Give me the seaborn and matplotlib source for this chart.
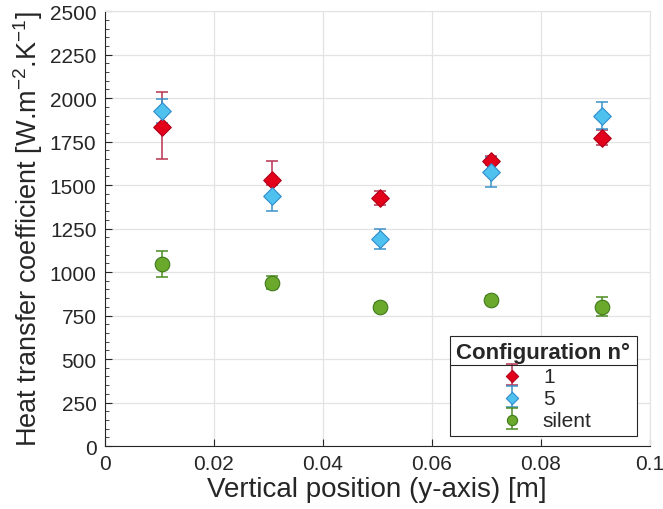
import matplotlib
matplotlib.use('Agg')
import matplotlib.pyplot as plt
import seaborn as sns
import pandas as pd
from matplotlib.ticker import MultipleLocator, FuncFormatter
from matplotlib.lines import Line2D

# data
y_pos = [0.0105, 0.0307, 0.0505, 0.0708, 0.0913]

htc_1 = [1835, 1530, 1425, 1640, 1770]
err_1_lo = [185, 30, 40, 25, 40]
err_1_hi = [200, 110, 40, 30, 45]

htc_5 = [1925, 1437, 1190, 1577, 1900]
err_5_lo = [70, 85, 60, 85, 80]
err_5_hi = [70, 85, 60, 85, 80]

htc_s = [1045, 940, 800, 840, 800]
err_s_lo = [75, 40, 25, 20, 55]
err_s_hi = [75, 40, 25, 20, 55]

configs = ['1', '5', 'silent']
face_cols = {'1': '#e3001b', '5': '#4fc1ef', 'silent': '#6aa92b'}
edge_cols = {'1': '#b0001a', '5': '#2f8ccc', 'silent': '#3f7a1c'}
err_cols = {'1': '#b8334f', '5': '#3a92c9', 'silent': '#4a8b22'}
markers = {'1': 'D', '5': 'D', 'silent': 'o'}
sizes = {'1': 80, '5': 80, 'silent': 110}

df = pd.DataFrame({
    'y': y_pos * 3,
    'htc': htc_1 + htc_5 + htc_s,
    'lo': err_1_lo + err_5_lo + err_s_lo,
    'hi': err_1_hi + err_5_hi + err_s_hi,
    'config': [c for c in configs for _ in y_pos],
})

sns.set_style('white')
plt.rcParams['font.family'] = ['Liberation Sans', 'DejaVu Sans']
plt.rcParams['mathtext.fontset'] = 'custom'
plt.rcParams['mathtext.rm'] = 'Liberation Sans'
plt.rcParams['mathtext.it'] = 'Liberation Sans:italic'
plt.rcParams['mathtext.bf'] = 'Liberation Sans:bold'
plt.rcParams['axes.unicode_minus'] = False
txt = '#262626'

fig = plt.figure(figsize=(6.63, 5.10), dpi=100)
ax = fig.add_axes([0.158, 0.1235, 0.822, 0.8525])

handles = []
for c in configs:
    sub = df[df['config'] == c]
    eb = ax.errorbar(sub['y'], sub['htc'], yerr=[sub['lo'], sub['hi']], fmt='none',
                     ecolor=err_cols[c], elinewidth=1.1, capsize=4, capthick=1.1, zorder=2)
    sns.scatterplot(data=sub, x='y', y='htc', marker=markers[c], s=sizes[c],
                    color=face_cols[c], edgecolor=edge_cols[c], linewidth=0.8, ax=ax, zorder=3)
    sc = ax.collections[-1]
    handles.append((eb, sc))

ax.set_xlim(0, 0.1)
ax.set_ylim(0, 2500)
ax.xaxis.set_major_locator(MultipleLocator(0.02))
ax.xaxis.set_major_formatter(FuncFormatter(lambda v, p: '%g' % round(v, 4)))
ax.yaxis.set_major_locator(MultipleLocator(250))
ax.yaxis.set_minor_locator(MultipleLocator(50))

ax.grid(True, which='major', color='#e3e3e3', linewidth=0.9)
ax.set_axisbelow(True)
for s in ['top', 'right']:
    ax.spines[s].set_color('#e3e3e3')
for s in ['left', 'bottom']:
    ax.spines[s].set_color(txt)
    ax.spines[s].set_linewidth(0.8)

ax.tick_params(axis='both', which='major', direction='in', length=5, width=0.8,
               labelsize=15, colors=txt, pad=6, left=True, bottom=True)
ax.tick_params(axis='y', which='minor', direction='in', length=3, width=0.6, color=txt, left=True)

ax.set_xlabel('Vertical position (y-axis) [m]', fontsize=20, color=txt, labelpad=2)
ax.set_ylabel('Heat transfer coefficient [W.m$^{-2}$.K$^{-1}$]', fontsize=19.5,
              color=txt, labelpad=3)

leg = ax.legend(handles, configs, title='Configuration n°', loc='lower right',
                bbox_to_anchor=(0.976, 0.023), fontsize=15, title_fontsize=16,
                frameon=True, fancybox=False, edgecolor=txt, framealpha=1,
                borderpad=0.3, labelspacing=0.15, handlelength=1.6, handletextpad=0.7,
                borderaxespad=0.0, markerscale=0.7)
leg.get_title().set_fontweight('bold')
leg.get_frame().set_linewidth(0.8)
leg._legend_box.align = 'center'

# separator line below the legend title
fig.canvas.draw()
fb = leg.get_frame().get_window_extent()
tb = leg.get_title().get_window_extent()
ysep = tb.y0 - 2
inv = fig.transFigure.inverted()
(x0, y0) = inv.transform((fb.x0, ysep))
(x1, _) = inv.transform((fb.x1, ysep))
fig.add_artist(Line2D([x0, x1], [y0, y0], color=txt, linewidth=0.8))

fig.savefig('out.png', dpi=100)
